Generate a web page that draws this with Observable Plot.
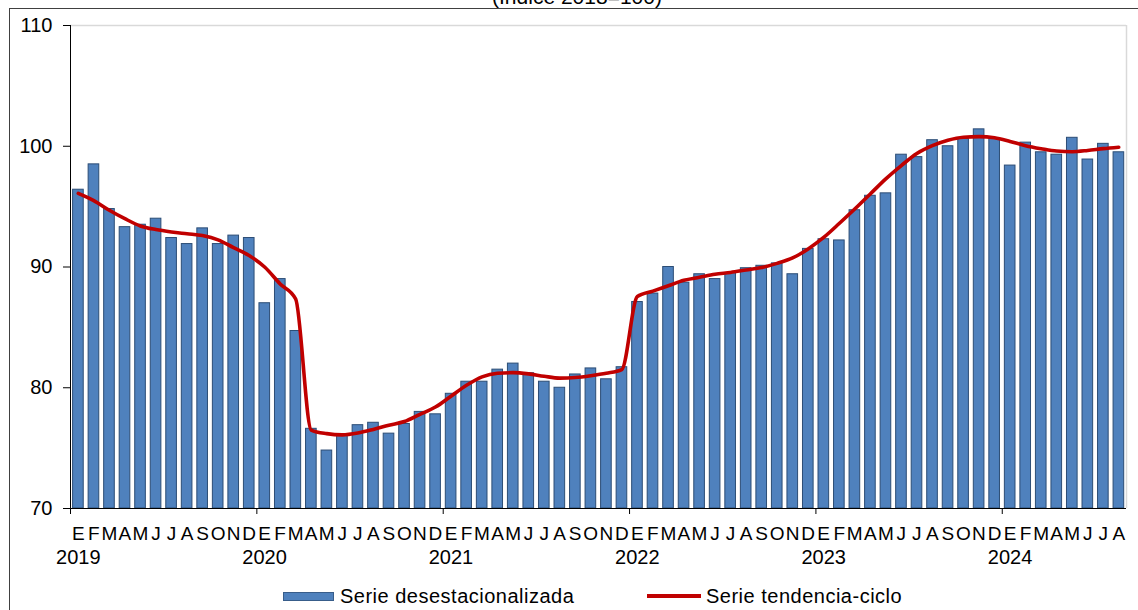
<!DOCTYPE html>
<html>
<head>
<meta charset="utf-8">
<script src="https://cdn.jsdelivr.net/npm/d3@7"></script>
<script src="https://cdn.jsdelivr.net/npm/@observablehq/plot@0.6"></script>
<style>
  html, body { margin: 0; padding: 0; background: #fff; overflow: hidden; }
  #page { position: relative; width: 1138px; height: 610px; overflow: hidden; font-family: "Liberation Sans", Arial, sans-serif; color: #000; }
  #frame { position: absolute; left: 9px; top: 8px; width: 1300px; height: 800px; border: 1px solid #404040; box-sizing: border-box; }
  #title { position: absolute; left: 377px; width: 400px; top: -14px; text-align: center; font-size: 21px; line-height: 21px; white-space: nowrap; }
  #chart { position: absolute; left: 0; top: 0; }
  .leg { position: absolute; font-size: 20px; line-height: 20px; letter-spacing: 0.5px; white-space: nowrap; }
</style>
</head>
<body>
<div id="page">
  <div id="frame"></div>
  <div id="title">(Índice 2018=100)</div>
  <div id="chart"></div>
  <div style="position:absolute;left:283px;top:592px;width:51px;height:9px;background:#4F81BD;border:1px solid #385D8A;box-sizing:border-box;"></div>
  <div class="leg" style="left:340px;top:586px;">Serie desestacionalizada</div>
  <div style="position:absolute;left:647px;top:594px;width:54px;height:4px;background:#C00000;"></div>
  <div class="leg" style="left:706px;top:586px;">Serie tendencia-ciclo</div>
</div>
<script>
// Month letters (Spanish) and years shown on the axis
const monthLetters = ["E","F","M","A","M","J","J","A","S","O","N","D"];
const years = [2019, 2020, 2021, 2022, 2023, 2024];
const yTicks = [70, 80, 90, 100, 110];

// Serie desestacionalizada (Jan 2019 – Aug 2024)
const desestacionalizada = [
  96.4, 98.5, 94.8, 93.3, 93.5, 94.0, 92.4, 91.9, 93.2, 91.9, 92.6, 92.4,
  87.0, 89.0, 84.7, 76.6, 74.8, 76.1, 76.9, 77.1, 76.2, 77.0, 78.0, 77.8,
  79.5, 80.5, 80.5, 81.5, 82.0, 81.2, 80.5, 80.0, 81.1, 81.6, 80.7, 81.7,
  87.1, 87.8, 90.0, 88.7, 89.4, 89.0, 89.5, 89.9, 90.1, 90.3, 89.4, 91.5,
  92.3, 92.2, 94.7, 95.9, 96.1, 99.3, 99.1, 100.5, 100.0, 100.6, 101.4, 100.6,
  98.4, 100.3, 99.5, 99.3, 100.7, 98.9, 100.2, 99.5
];

// Serie tendencia-ciclo
const tendenciaCiclo = [
  96.1, 95.5, 94.7, 94.0, 93.4, 93.1, 92.9, 92.75, 92.6, 92.25, 91.6, 90.95,
  90.0, 88.6, 87.35, 76.5, 76.2, 76.1, 76.25, 76.55, 76.9, 77.2, 77.8, 78.4,
  79.3, 80.2, 80.9, 81.2, 81.25, 81.15, 80.95, 80.8, 80.85, 81.0, 81.2, 81.5,
  87.55, 88.0, 88.45, 88.9, 89.15, 89.4, 89.55, 89.75, 89.95, 90.3, 90.75, 91.5,
  92.45, 93.6, 94.8, 96.05, 97.3, 98.4, 99.4, 100.05, 100.5, 100.75, 100.8, 100.7,
  100.4, 100.05, 99.8, 99.6, 99.55, 99.65, 99.8, 99.92
];

const n = desestacionalizada.length;
const rows = desestacionalizada.map((v, i) => ({
  i,
  mid: i + 0.5,
  month: monthLetters[i % 12],
  desest: v,
  trend: tendenciaCiclo[i]
}));
const yearRows = years.map((y, k) => ({year: String(y), start: k * 12, mid: k * 12 + 0.5}));

const chart = Plot.plot({
  width: 1138,
  height: 570,
  marginLeft: 70,
  marginRight: 12,
  marginTop: 25,
  marginBottom: 62,
  style: {fontFamily: "'Liberation Sans', Arial, sans-serif", fontSize: "20px", color: "#000", background: "transparent", overflow: "visible"},
  x: {type: "linear", domain: [0, n], axis: null},
  y: {domain: [70, 110], axis: null},
  marks: [
    // plot-area border (top and right)
    Plot.ruleY([110], {stroke: "#d9d9d9", strokeWidth: 1.5}),
    Plot.ruleX([n], {stroke: "#d9d9d9", strokeWidth: 1.5}),
    // bars
    Plot.rect(rows, {
      x1: d => d.i, x2: d => d.i + 1, y1: 70, y2: "desest",
      insetLeft: 2.6, insetRight: 2.3,
      fill: "#4F81BD", stroke: "#2C4D75", strokeWidth: 1
    }),
    // trend line
    Plot.line(rows, {x: "mid", y: "trend", stroke: "#C00000", strokeWidth: 3.6, curve: "monotone-x"}),
    // axes lines
    Plot.ruleX([0], {stroke: "#000", strokeWidth: 1}),
    Plot.ruleY([70], {stroke: "#000", strokeWidth: 1}),
    // year boundary ticks
    Plot.ruleX(yearRows, {x: "start", y1: 70, y2: 70, insetBottom: -6, stroke: "#000", strokeWidth: 1}),
    // y axis
    Plot.axisY({ticks: yTicks, tickSize: 7, tickPadding: 11, fontSize: 20, stroke: "#000"}),
    // month letters
    Plot.text(rows, {x: "mid", frameAnchor: "bottom", text: "month", dy: 25.5, lineAnchor: "middle", fontSize: 19, fill: "#000"}),
    // year labels
    Plot.text(yearRows, {x: "mid", frameAnchor: "bottom", text: "year", dy: 49, lineAnchor: "middle", fontSize: 20, fill: "#000"})
  ]
});
document.getElementById("chart").appendChild(chart);
</script>
</body>
</html>
